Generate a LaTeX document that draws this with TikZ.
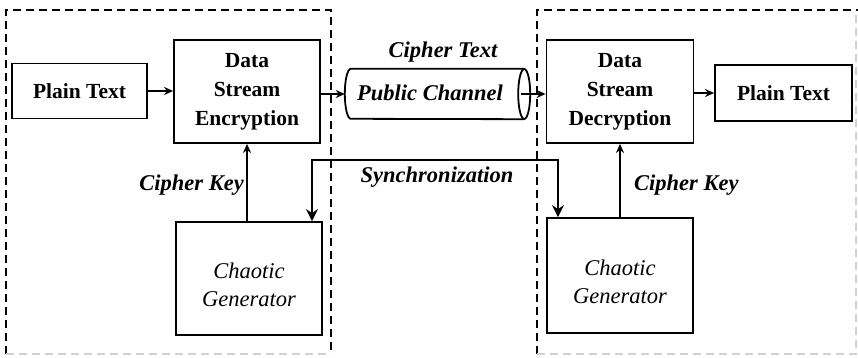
\documentclass[tikz,border=0pt]{standalone}
\usepackage{fontspec}
\setmainfont{Liberation Serif}
\usetikzlibrary{arrows.meta,calc}
\tikzset{
  box/.style={draw, line width=1.8pt, inner sep=0pt, align=center,
    font=\fontsize{21.5}{29}\selectfont\bfseries},
  genbox/.style={draw, line width=1.8pt, inner sep=0pt, align=center,
    font=\fontsize{22.5}{28}\selectfont\itshape},
  lbl/.style={inner sep=0pt, font=\fontsize{22.5}{27}\selectfont\bfseries\itshape},
  pipe/.style={line width=1.8pt},
  arr/.style={line width=1.6pt, -{Stealth[length=9pt,width=8pt]}},
  syncarr/.style={line width=1.6pt, -{Stealth[length=12pt,width=12pt,inset=4pt]}},
  frame/.style={line width=1.8pt, dash pattern=on 8pt off 5pt},
  faint/.style={line width=1.2pt, dash pattern=on 8pt off 5pt, black!18}
}
\begin{document}
\begin{tikzpicture}[x=1pt,y=-1pt]
\useasboundingbox (0,0) rectangle (858,358);
% dashed frames
\draw[frame] (6,354) -- (6,10) -- (331,10) -- (331,354);
\draw[faint] (6,354) -- (331,354);
\draw[frame] (537,354) -- (537,10) -- (858,10);
\draw[faint] (537,354) -- (856,354) -- (856,10);
% nodes
\node[box, minimum width=135, minimum height=55] (pt1) at (79.5,91) {Plain Text};
\node[box, minimum width=146, minimum height=103] (enc) at (247,91.5) {Data\\Stream\\Encryption};
\node[inner sep=0pt, minimum width=185, minimum height=50] (ch) at (437.5,94) {};
\node[lbl] (chtxt) at (430,93) {Public Channel};
\node[lbl] (ct) at (443,52) {Cipher Text};
\node[box, minimum width=147, minimum height=103] (dec) at (620,91.5) {Data\\Stream\\Decryption};
\node[box, minimum width=137, minimum height=56] (pt2) at (783.5,93) {Plain Text};
\node[genbox, minimum width=146, minimum height=113] (gen1) at (249,278.5) {\mbox{}\\Chaotic\\Generator};
\node[genbox, minimum width=146, minimum height=115] (gen2) at (620,275.5) {\mbox{}\\Chaotic\\Generator};
\node[lbl, anchor=east] (ck1) at (244,185) {Cipher Key};
\node[lbl, anchor=west] (ck2) at (634,185) {Cipher Key};
\node[lbl] (sync) at (437,177) {Synchronization};
% public channel pipe
\coordinate (ce) at ($(ch.east)+(-6,0)$);
\draw[pipe] ($(ch.north east)+(-6,0)$) -- ($(ch.north west)+(6,0)$)
  arc[start angle=270, end angle=90, x radius=6, y radius=25]
  -- ($(ch.south east)+(-6,0)$);
\draw[pipe] (ce) ellipse[x radius=6, y radius=25];
% connectors
\draw[arr] (pt1.east) -- (enc.west |- pt1.east);
\draw[arr] (enc.east |- ch.center) -- (ch.west);
\draw[arr] ([xshift=-3pt]ce) -- (dec.west |- ce);
\draw[arr] (dec.east |- pt2.west) -- (pt2.west);
\draw[arr] (gen1.north -| enc.south) -- (enc.south);
\draw[arr] (gen2.north -| dec.south) -- (dec.south);
\coordinate (s1) at (312,160);
\coordinate (s2) at (558,160);
\draw[syncarr] (s1) -- (s2) -- (s2 |- gen2.north);
\draw[syncarr] (s2) -- (s1) -- (s1 |- gen1.north);
\end{tikzpicture}
\end{document}
